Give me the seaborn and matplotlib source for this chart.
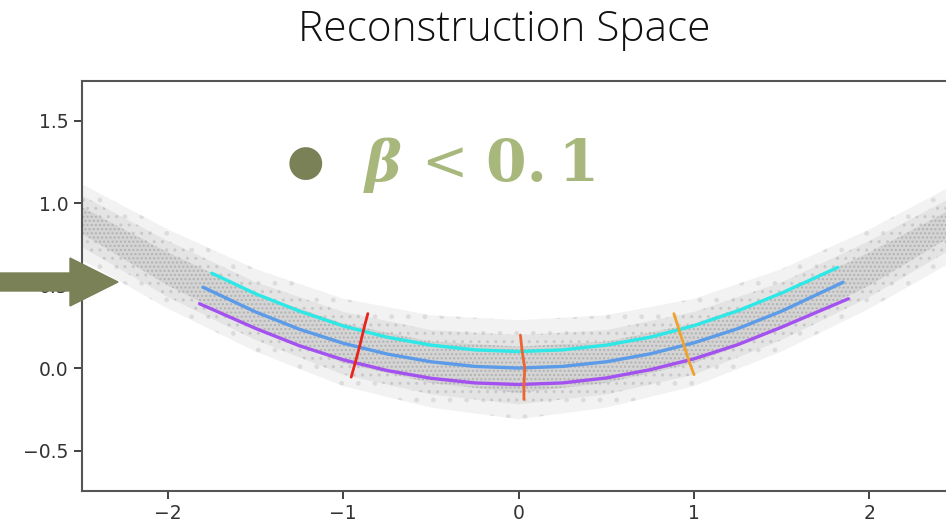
import numpy as np
import pandas as pd
import seaborn as sns
import matplotlib.pyplot as plt
from matplotlib.patches import Polygon

# Daten
cloud_x = [-2.5, -2.0, -1.5, -1.0, -0.5, 0.0, 0.5, 1.0, 1.5, 2.0, 2.5]
cloud_outer_hi = [1.12, 0.84, 0.60, 0.42, 0.32, 0.29, 0.32, 0.42, 0.60, 0.84, 1.12]
cloud_outer_lo = [0.66, 0.36, 0.10, -0.11, -0.24, -0.31, -0.24, -0.11, 0.10, 0.36, 0.66]
cloud_mid_hi = [1.05, 0.77, 0.52, 0.34, 0.23, 0.20, 0.23, 0.34, 0.52, 0.77, 1.05]
cloud_mid_lo = [0.74, 0.43, 0.17, -0.04, -0.16, -0.22, -0.16, -0.04, 0.17, 0.43, 0.74]
cloud_inner_hi = [0.98, 0.70, 0.45, 0.27, 0.16, 0.13, 0.16, 0.27, 0.45, 0.70, 0.98]
cloud_inner_lo = [0.82, 0.50, 0.24, 0.03, -0.09, -0.15, -0.09, 0.03, 0.24, 0.50, 0.82]

cyan_x = [-1.75, -1.5, -1.25, -1.0, -0.75, -0.5, -0.25, 0.0, 0.25, 0.5, 0.75, 1.0, 1.25, 1.5, 1.82]
cyan_y = [0.575, 0.45, 0.345, 0.255, 0.187, 0.139, 0.11, 0.10, 0.11, 0.139, 0.187, 0.257, 0.347, 0.455, 0.61]
blue_x = [-1.8, -1.5, -1.25, -1.0, -0.75, -0.5, -0.25, 0.0, 0.25, 0.5, 0.75, 1.0, 1.25, 1.5, 1.85]
blue_y = [0.49, 0.34, 0.235, 0.15, 0.085, 0.038, 0.01, 0.0, 0.01, 0.038, 0.086, 0.153, 0.239, 0.345, 0.52]
purple_x = [-1.82, -1.5, -1.25, -1.0, -0.75, -0.5, -0.25, 0.0, 0.25, 0.5, 0.75, 1.0, 1.25, 1.5, 1.88]
purple_y = [0.39, 0.24, 0.135, 0.05, -0.015, -0.062, -0.09, -0.1, -0.09, -0.06, -0.01, 0.056, 0.142, 0.248, 0.42]

red_x = [-0.86, -0.88, -0.905, -0.93, -0.955]
red_y = [0.33, 0.25, 0.14, 0.04, -0.055]
orange_red_x = [0.01, 0.02, 0.035, 0.03, 0.03]
orange_red_y = [0.20, 0.10, 0.0, -0.10, -0.19]
orange_x = [0.885, 0.915, 0.945, 0.975, 1.00]
orange_y = [0.33, 0.23, 0.13, 0.03, -0.04]

x_ticks = [-2, -1, 0, 1, 2]
y_ticks = [-0.5, 0.0, 0.5, 1.0, 1.5]

sns.set_style("ticks")
plt.rcParams['font.family'] = ['DejaVu Sans']
plt.rcParams['hatch.linewidth'] = 1.0

fig = plt.figure(figsize=(9.46, 5.25), dpi=100)
ax = fig.add_axes([0.0867, 0.0648, 0.925, 0.781])

# Punktwolke als graues, gesprenkeltes Band (drei Dichtestufen)
ax.fill_between(cloud_x, cloud_outer_lo, cloud_outer_hi, facecolor="#f2f2f2", lw=0,
                hatch=".", edgecolor="#dcdcdc")
ax.fill_between(cloud_x, cloud_mid_lo, cloud_mid_hi, facecolor="#e4e4e4", lw=0,
                hatch="..", edgecolor="#c8c8c8")
ax.fill_between(cloud_x, cloud_inner_lo, cloud_inner_hi, facecolor="#d4d4d4", lw=0,
                hatch="....", edgecolor="#b2b2b2")

lines = [
    (cyan_x, cyan_y, "#2de8e6", 2.4),
    (blue_x, blue_y, "#5b9be8", 2.4),
    (purple_x, purple_y, "#a352f0", 2.4),
    (red_x, red_y, "#e8241c", 2.0),
    (orange_red_x, orange_red_y, "#ee6430", 2.0),
    (orange_x, orange_y, "#f0a22a", 2.0),
]
for xs, ys, col, lw in lines:
    df = pd.DataFrame({"x": xs, "y": ys})
    sns.lineplot(data=df, x="x", y="y", sort=False, estimator=None, color=col, lw=lw, ax=ax)

ax.set_xlim(-2.49, 2.5)
ax.set_ylim(-0.745, 1.74)
ax.set_xticks(x_ticks)
ax.set_yticks(y_ticks)
ax.set_xticklabels([str(t).replace("-", "\u2212") for t in x_ticks])
ax.set_yticklabels([f"{t:.1f}".replace("-", "\u2212") for t in y_ticks])
ax.tick_params(labelsize=13.5, colors="#333333", length=6, width=1.3)
ax.set_xlabel("")
ax.set_ylabel("")
for s in ax.spines.values():
    s.set_color("#555555")
    s.set_linewidth(1.5)

# Titel
fig.text(0.533, 0.944, "Reconstruction Space", ha="center", va="center",
         fontsize=30.5, family="Open Sans", weight="light", color="#111111")

# Aufzaehlungspunkt mit beta
fig.text(0.323, 0.69, "\u25CF", ha="center", va="center", fontsize=31, color="#7a8157")
fig.text(0.405, 0.685, "\u03B2", ha="center", va="center", fontsize=40,
         family="DejaVu Serif", weight="bold", style="italic", color="#a8b87c")
fig.text(0.47, 0.685, "<", ha="center", va="center", fontsize=40,
         family="DejaVu Serif", color="#a8b87c")
fig.text(0.574, 0.685, "0.\u20091", ha="center", va="center", fontsize=42,
         family=["DejaVu Serif"], weight="bold", color="#a8b87c")

# Pfeil links
W, H = 946, 525
pts = [(0, 273), (70, 273), (70, 258), (118, 282), (70, 306), (70, 291), (0, 291)]
arrow = Polygon([(px / W, 1 - py / H) for px, py in pts], closed=True,
                transform=fig.transFigure, color="#7a8157", zorder=5)
fig.patches.append(arrow)

fig.savefig("out.png", dpi=100)
